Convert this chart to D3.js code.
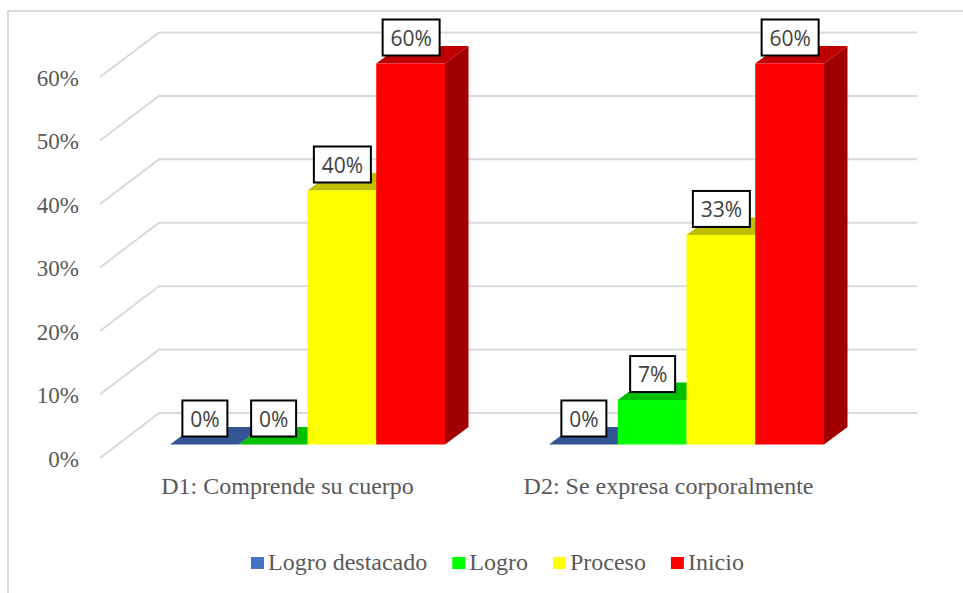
<!DOCTYPE html>
<html lang="en">
<head>
    <meta charset="UTF-8">
    <title>Logro por dimension</title>
    <script src="https://cdn.jsdelivr.net/npm/d3@7"></script>
    <style>
        html, body { margin: 0; padding: 0; background: #fff; overflow: hidden; }
        svg { display: block; }
        .serif { font-family: "Liberation Serif", serif; fill: #595959; }
    </style>
</head>
<body>
<svg id="main" width="963" height="593"></svg>
<script>
    const categories = ['D1: Comprende su cuerpo', 'D2: Se expresa corporalmente'];
    const seriesNames = ['Logro destacado', 'Logro', 'Proceso', 'Inicio'];
    const d1Values = [0, 0, 40, 60];
    const d2Values = [0, 7, 33, 60];
    const yTicks = [0, 10, 20, 30, 40, 50, 60];

    const frontColors = ['#4472c4', '#00ff00', '#ffff00', '#ff0000'];
    const topColors = ['#335593', '#00bf00', '#bfbf00', '#bf0000'];
    const sideColors = ['#29447a', '#009f00', '#a0a000', '#a00000'];

    const svg = d3.select('svg#main');
    const gridColor = '#d9d9d9';

    // depth of the bars and of the floor, the wall sits further back
    const barDx = 23.5, barDy = 17.5;
    const wallDx = 59;

    const x0 = d3.scaleBand().domain(categories).range([118, 876]);
    const x1 = d3.scaleBand().domain(seriesNames).range([-137.5, 137.5]);
    const yFront = d3.scaleLinear().domain([0, 60]).range([444.5, 63.5]);
    const yWall = d3.scaleLinear().domain([0, 60]).range([413, 32.5]);
    const yAxis = d3.scaleLinear().domain([0, 60]).range([458, 77]);

    // chart border, only top and left show in the picture
    svg.append('path')
        .attr('d', 'M8,593V11H963')
        .attr('fill', 'none')
        .attr('stroke', gridColor)
        .attr('stroke-width', 2);

    // gridlines on the side wall and the back wall
    const wallLeft = 100 + wallDx, wallRight = 917;
    svg.append('g').selectAll('path')
        .data(yTicks)
        .enter()
        .append('path')
        .attr('d', d => 'M' + (wallLeft - wallDx) + ',' + yAxis(d) + 'L' + wallLeft + ',' + yWall(d) + 'H' + wallRight)
        .attr('fill', 'none')
        .attr('stroke', gridColor)
        .attr('stroke-width', 2);

    const rows = categories.map((c, i) => ({
        category: c,
        values: [d1Values, d2Values][i]
    }));

    const bars = rows.flatMap(r => r.values.map((v, i) => ({
        category: r.category,
        series: i,
        value: v,
        left: x0(r.category) + x0.bandwidth() / 2 + x1(seriesNames[i]),
        top: yFront(v)
    })));

    const barW = x1.bandwidth();
    const barG = svg.append('g');

    bars.forEach(b => {
        const g = barG.append('g');
        g.append('path') // right side
            .attr('d', 'M' + (b.left + barW) + ',' + b.top + 'l' + barDx + ',' + (-barDy) + 'V' + (yFront(0) - barDy) + 'l' + (-barDx) + ',' + barDy + 'Z')
            .attr('fill', sideColors[b.series]);
        g.append('path') // top
            .attr('d', 'M' + b.left + ',' + b.top + 'l' + barDx + ',' + (-barDy) + 'h' + barW + 'l' + (-barDx) + ',' + barDy + 'Z')
            .attr('fill', topColors[b.series]);
        g.append('rect') // front
            .attr('x', b.left)
            .attr('y', b.top)
            .attr('width', barW)
            .attr('height', yFront(0) - b.top)
            .attr('fill', frontColors[b.series]);
    });

    // value labels
    const labelG = svg.append('g');
    bars.forEach(b => {
        const txt = b.value + '%';
        const w = txt.length === 3 ? 57 : 45;
        const cx = b.left + barW / 2 + 0.5;
        const cy = b.top - 26;
        labelG.append('rect')
            .attr('x', cx - w / 2)
            .attr('y', cy - 18)
            .attr('width', w)
            .attr('height', 36)
            .attr('fill', '#fff')
            .attr('stroke', '#000')
            .attr('stroke-width', 2);
        labelG.append('text')
            .attr('x', cx)
            .attr('y', cy + 8)
            .attr('text-anchor', 'middle')
            .style('font-family', '"Open Sans", sans-serif')
            .style('font-size', '21px')
            .style('fill', '#404040')
            .text(txt);
    });

    // axes
    const yAxisG = svg.append('g')
        .attr('transform', 'translate(79,0)')
        .call(d3.axisLeft(yAxis).tickValues(yTicks).tickSize(0).tickPadding(0).tickFormat(d => d + '%'));
    yAxisG.select('.domain').remove();
    yAxisG.selectAll('text')
        .attr('class', 'serif')
        .attr('dy', null)
        .attr('y', 8)
        .style('font-family', '"Liberation Serif", serif')
        .style('font-size', '23px');

    // labels sit a bit left of the bars and slightly wider apart
    const xLabels = x0.copy().range([97, 859]);
    const xAxisG = svg.append('g')
        .attr('transform', 'translate(0,494)')
        .call(d3.axisBottom(xLabels).tickSize(0).tickPadding(0));
    xAxisG.select('.domain').remove();
    xAxisG.selectAll('text')
        .attr('class', 'serif')
        .attr('dy', null)
        .attr('y', 0)
        .style('font-family', '"Liberation Serif", serif')
        .style('font-size', '24px');

    // legend, laid out left to right from the text widths
    let legendX = 251;
    const legend = svg.append('g');
    seriesNames.forEach((name, i) => {
        legend.append('rect')
            .attr('x', legendX)
            .attr('y', 557)
            .attr('width', 13)
            .attr('height', 12)
            .attr('fill', frontColors[i]);
        const t = legend.append('text')
            .attr('class', 'serif')
            .attr('x', legendX + 17)
            .attr('y', 570)
            .style('font-size', '24px')
            .text(name);
        legendX += 17 + t.node().getComputedTextLength() + 25;
    });
</script>
</body>
</html>
